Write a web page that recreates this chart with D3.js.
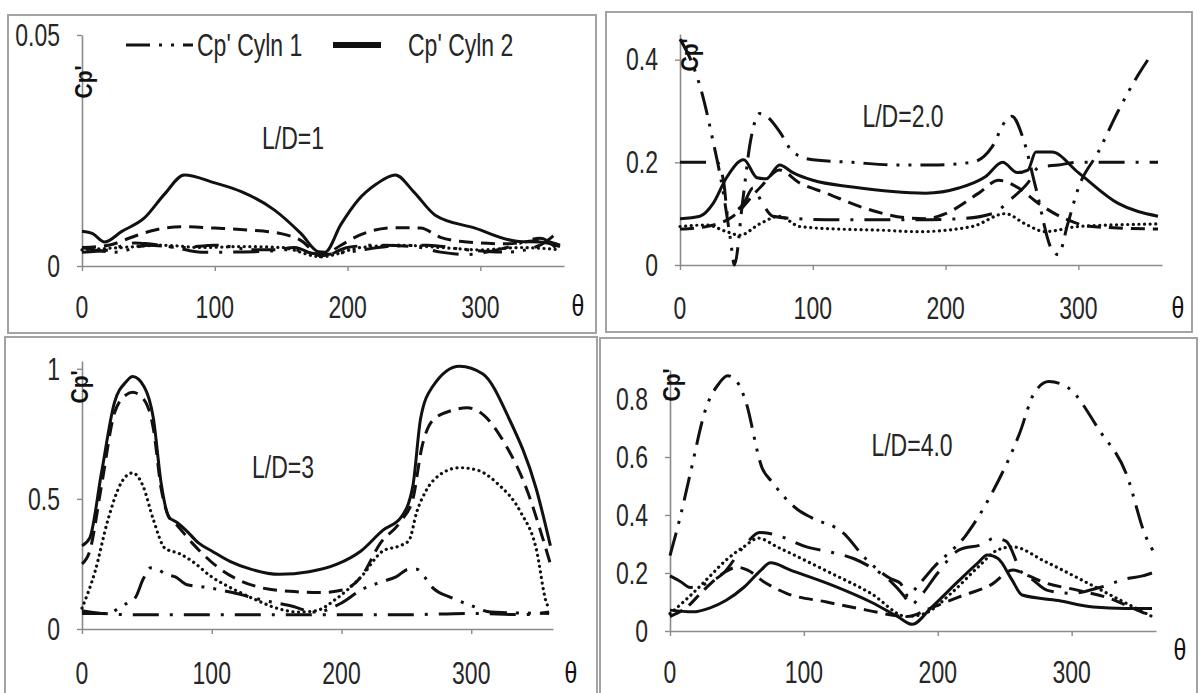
<!DOCTYPE html>
<html>
<head>
<meta charset="utf-8">
<script src="https://cdn.jsdelivr.net/npm/d3@7"></script>
<style>
  body { margin: 0; background: #fff; }
  svg { display: block; }
</style>
</head>
<body>
<div id="chart"></div>
<script>
// tick values / labels
const xTicks = [0, 100, 200, 300];
const p1YTicks = [0, 0.05],          p1YLabels = ["0", "0.05"];
const p2YTicks = [0, 0.2, 0.4],      p2YLabels = ["0", "0.2", "0.4"];
const p3YTicks = [0, 0.5, 1],        p3YLabels = ["0", "0.5", "1"];
const p4YTicks = [0, 0.2, 0.4, 0.6, 0.8], p4YLabels = ["0", "0.2", "0.4", "0.6", "0.8"];

const titles = ["L/D=1", "L/D=2.0", "L/D=3", "L/D=4.0"];
const legendLabels = ["Cp' Cyln 1", "Cp' Cyln 2"];
const yTitle = "Cp'", xTitle = "θ";

// L/D=1  [theta, Cp']
const p1Solid = [[0,0.0075],[8,0.007],[17,0.0052],[30,0.0075],[47,0.0104],[62,0.0155],[77,0.0197],[100,0.018],[120,0.0161],[145,0.0121],[165,0.007],[178,0.0031],[183,0.003],[195,0.009],[208,0.0143],[222,0.0178],[236,0.0197],[250,0.016],[266,0.011],[296,0.0082],[329,0.0053],[345,0.0052],[360,0.0042]];
const p1Dashed = [[0,0.004],[20,0.0045],[40,0.0065],[55,0.0078],[75,0.0085],[100,0.0082],[125,0.0078],[150,0.007],[165,0.0055],[180,0.0022],[195,0.0045],[210,0.0068],[235,0.0083],[255,0.0082],[270,0.0062],[290,0.0052],[320,0.0048],[345,0.0055],[360,0.0045]];
const p1Dotted = [[0,0.0035],[30,0.004],[60,0.0045],[90,0.004],[120,0.0042],[150,0.004],[180,0.002],[210,0.004],[240,0.0045],[270,0.004],[300,0.0035],[330,0.004],[360,0.0035]];
const p1DashDot = [[0,0.003],[20,0.0035],[40,0.005],[50,0.0048],[70,0.004],[90,0.003],[110,0.003],[140,0.0032],[160,0.004],[180,0.002],[200,0.004],[220,0.0045],[250,0.0042],[270,0.003],[290,0.0025],[320,0.004],[345,0.006],[360,0.003]];
const p1DashDotDot = [[0,0.004],[25,0.003],[50,0.0045],[75,0.004],[100,0.0045],[130,0.0035],[160,0.0035],[180,0.0025],[200,0.003],[230,0.0042],[260,0.0045],[290,0.0035],[320,0.003],[345,0.0045],[355,0.0065]];

// L/D=2.0
const p2Solid = [[0,0.09],[15,0.095],[25,0.12],[35,0.17],[48,0.205],[58,0.17],[65,0.168],[75,0.195],[85,0.18],[100,0.165],[130,0.152],[160,0.143],[185,0.14],[210,0.15],[230,0.172],[243,0.2],[254,0.18],[262,0.185],[268,0.22],[280,0.22],[300,0.18],[330,0.12],[360,0.095]];
const p2Dashed = [[0,0.07],[20,0.075],[40,0.095],[60,0.15],[75,0.185],[90,0.16],[110,0.14],[140,0.11],[170,0.092],[185,0.09],[200,0.1],[225,0.14],[240,0.165],[255,0.15],[270,0.12],[290,0.09],[310,0.075],[360,0.07]];
const p2Dotted = [[0,0.075],[20,0.078],[35,0.065],[45,0.058],[60,0.08],[75,0.095],[90,0.075],[120,0.07],[150,0.068],[180,0.065],[220,0.075],[245,0.1],[260,0.08],[275,0.065],[300,0.075],[360,0.08]];
const p2DashDot = [[0,0.2],[28,0.2],[33,0.16],[36,0.1],[48,0.12],[55,0.15],[62,0.12],[70,0.095],[90,0.09],[120,0.088],[150,0.088],[180,0.088],[210,0.09],[235,0.1],[250,0.13],[262,0.16],[270,0.19],[285,0.195],[300,0.2],[360,0.2]];
const p2DashDotDot = [[0,0.44],[8,0.4],[16,0.34],[25,0.24],[32,0.15],[38,0.05],[41,0.0],[47,0.12],[53,0.24],[60,0.295],[65,0.29],[75,0.26],[85,0.22],[100,0.205],[130,0.2],[160,0.195],[190,0.195],[220,0.2],[235,0.23],[245,0.28],[250,0.29],[258,0.25],[268,0.15],[280,0.03],[285,0.02],[292,0.08],[300,0.15],[315,0.22],[330,0.3],[345,0.37],[355,0.41]];

// L/D=3
const p3Solid = [[0,0.32],[6,0.35],[15,0.6],[25,0.87],[34,0.95],[39,0.97],[48,0.93],[55,0.81],[61,0.56],[67,0.43],[73,0.41],[80,0.38],[90,0.33],[100,0.3],[114,0.26],[130,0.23],[152,0.21],[175,0.22],[197,0.25],[215,0.3],[232,0.38],[246,0.43],[255,0.55],[261,0.81],[270,0.93],[291,1.01],[309,0.98],[329,0.81],[350,0.54],[361,0.32]];
const p3Dashed = [[0,0.25],[6,0.3],[15,0.55],[25,0.83],[34,0.9],[39,0.91],[48,0.88],[55,0.77],[61,0.54],[67,0.43],[73,0.4],[85,0.33],[104,0.24],[120,0.19],[137,0.16],[160,0.145],[183,0.14],[201,0.15],[215,0.2],[230,0.33],[245,0.41],[255,0.5],[262,0.7],[270,0.8],[285,0.84],[297,0.85],[310,0.82],[325,0.72],[344,0.52],[355,0.35],[361,0.25]];
const p3Dotted = [[0,0.08],[10,0.22],[20,0.42],[30,0.56],[39,0.6],[47,0.55],[55,0.42],[64,0.31],[75,0.29],[85,0.26],[100,0.2],[114,0.16],[135,0.11],[150,0.08],[167,0.065],[180,0.07],[197,0.12],[215,0.2],[232,0.3],[245,0.32],[252,0.34],[258,0.45],[265,0.53],[275,0.59],[291,0.62],[305,0.61],[320,0.56],[338,0.45],[350,0.31],[358,0.1],[360,0.08]];
const p3DashDot = [[0,0.07],[15,0.06],[40,0.055],[100,0.055],[150,0.055],[200,0.055],[250,0.055],[300,0.06],[340,0.055],[360,0.065]];
const p3DashDotDot = [[0,0.06],[20,0.06],[31,0.09],[41,0.12],[47,0.19],[53,0.235],[58,0.23],[65,0.21],[72,0.2],[81,0.17],[96,0.16],[116,0.14],[140,0.11],[160,0.09],[180,0.065],[200,0.1],[215,0.15],[230,0.18],[242,0.2],[252,0.23],[258,0.23],[264,0.2],[270,0.16],[285,0.12],[300,0.09],[315,0.065],[360,0.06]];

// L/D=4.0
const p4Solid = [[0,0.072],[17,0.066],[30,0.08],[42,0.106],[55,0.15],[68,0.21],[75,0.235],[90,0.21],[120,0.16],[150,0.1],[170,0.05],[181,0.023],[195,0.08],[215,0.17],[230,0.235],[237,0.262],[245,0.25],[255,0.18],[263,0.124],[290,0.105],[316,0.083],[340,0.078],[360,0.078]];
const p4Dashed = [[0,0.05],[12,0.08],[25,0.14],[40,0.2],[50,0.22],[58,0.21],[70,0.17],[87,0.13],[117,0.1],[147,0.072],[177,0.05],[195,0.08],[216,0.118],[240,0.16],[256,0.21],[268,0.19],[278,0.17],[305,0.14],[328,0.113],[345,0.08],[360,0.05]];
const p4Dotted = [[0,0.06],[10,0.1],[17,0.13],[30,0.19],[42,0.245],[55,0.29],[66,0.32],[80,0.29],[120,0.2],[150,0.13],[177,0.05],[190,0.06],[210,0.13],[230,0.22],[245,0.28],[256,0.29],[280,0.24],[310,0.17],[341,0.095],[360,0.05]];
const p4DashDot = [[0,0.19],[8,0.17],[15,0.15],[25,0.16],[40,0.2],[55,0.29],[67,0.34],[80,0.33],[102,0.29],[122,0.27],[137,0.25],[150,0.22],[165,0.17],[175,0.12],[180,0.09],[187,0.12],[200,0.2],[216,0.28],[234,0.3],[242,0.32],[251,0.31],[263,0.2],[270,0.18],[282,0.14],[300,0.13],[321,0.15],[341,0.18],[353,0.19],[360,0.2]];
const p4DashDotDot = [[0,0.26],[8,0.4],[15,0.54],[27,0.77],[36,0.85],[43,0.88],[50,0.86],[56,0.8],[69,0.56],[76,0.515],[95,0.42],[106,0.39],[129,0.34],[146,0.25],[165,0.18],[172,0.165],[178,0.12],[184,0.15],[197,0.22],[221,0.33],[241,0.48],[261,0.68],[272,0.82],[283,0.86],[297,0.84],[321,0.69],[341,0.54],[355,0.33],[363,0.26]];

const width = 1198, height = 693;

const lineStyles = {
  solid:      {dash: null, w: 3},
  dashed:     {dash: "14,8", w: 3},
  dotted:     {dash: "0.1,5.5", w: 3.2, cap: "round"},
  dashDot:    {dash: "26,11,3,11", w: 3},
  dashDotDot: {dash: "24,9,3,9,3,9", w: 3}
};

const panels = [
  {frame: [8, 15, 596, 333], xr: [82, 564], yr: [266, 35], ymax: 0.05, yTicks: p1YTicks, yLabels: p1YLabels,
   title: [293, 138], theta: [578, 306], xLabY: 307, cp: [84, 82],
   series: [[p1DashDotDot, "dashDotDot"], [p1DashDot, "dashDot"], [p1Dotted, "dotted"], [p1Dashed, "dashed"], [p1Solid, "solid"]]},
  {frame: [606, 12, 1192, 332], xr: [680, 1162], yr: [265, 34], ymax: 0.45, yTicks: p2YTicks, yLabels: p2YLabels,
   title: [903, 116], theta: [1178, 308], xLabY: 308, cp: [690, 55],
   series: [[p2DashDotDot, "dashDotDot"], [p2DashDot, "dashDot"], [p2Dotted, "dotted"], [p2Dashed, "dashed"], [p2Solid, "solid"]]},
  {frame: [5, 337, 597, 700], xr: [82, 553], yr: [629, 361], ymax: 1.03, yTicks: p3YTicks, yLabels: p3YLabels,
   title: [283, 467], theta: [571, 673], xLabY: 673, cp: [80, 387],
   series: [[p3DashDotDot, "dashDotDot"], [p3DashDot, "dashDot"], [p3Dotted, "dotted"], [p3Dashed, "dashed"], [p3Solid, "solid"]]},
  {frame: [600, 338, 1197, 700], xr: [670, 1156], yr: [631, 370], ymax: 0.9, yTicks: p4YTicks, yLabels: p4YLabels,
   title: [912, 445], theta: [1180, 650], xLabY: 672, cp: [672, 385],
   series: [[p4DashDotDot, "dashDotDot"], [p4DashDot, "dashDot"], [p4Dotted, "dotted"], [p4Dashed, "dashed"], [p4Solid, "solid"]]}
];

const svg = d3.select("#chart").append("svg")
  .attr("width", width)
  .attr("height", height);

function txt(g, x, y, s, o = {}) {
  return g.append("text")
    .attr("transform", `translate(${x},${y}) rotate(${o.rot || 0}) scale(${o.sx || 1},${o.sy || 1.35})`)
    .attr("text-anchor", o.anchor || "middle")
    .attr("dominant-baseline", "central")
    .attr("font-family", "'Liberation Sans', Arial, sans-serif")
    .attr("font-size", o.size || 23)
    .attr("font-weight", o.weight || "normal")
    .attr("fill", o.fill || "#262626")
    .text(s);
}

panels.forEach((p, i) => {
  const g = svg.append("g");

  g.append("rect")
    .attr("x", p.frame[0]).attr("y", p.frame[1])
    .attr("width", p.frame[2] - p.frame[0]).attr("height", p.frame[3] - p.frame[1])
    .attr("fill", "none").attr("stroke", "#a3a3a3").attr("stroke-width", 2);

  const x = d3.scaleLinear().domain([0, 363]).range(p.xr);
  const y = d3.scaleLinear().domain([0, p.ymax]).range(p.yr);

  const xAxis = g.append("g").attr("transform", `translate(0,${y(0)})`)
    .call(d3.axisBottom(x).tickValues(xTicks).tickSize(5).tickSizeOuter(0).tickFormat(""));
  const yAxis = g.append("g").attr("transform", `translate(${x(0)},0)`)
    .call(d3.axisLeft(y).tickValues(p.yTicks).tickSize(5).tickSizeOuter(0).tickFormat(""));
  [xAxis, yAxis].forEach(a => {
    a.select(".domain").attr("stroke", "#8a8a8a").attr("stroke-width", 1.6);
    a.selectAll(".tick line").attr("stroke", "#8a8a8a").attr("stroke-width", 1.4);
  });

  xTicks.forEach(v => txt(g, x(v), p.xLabY, v));
  p.yTicks.forEach((v, k) => txt(g, x(0) - 22, y(v), p.yLabels[k], {anchor: "end"}));
  txt(g, p.theta[0], p.theta[1], xTitle, {size: 23, sy: 1.25, fill: "#111"});
  txt(g, p.cp[0], p.cp[1], yTitle, {rot: -90, size: 21, weight: "bold", sy: 1.15, fill: "#111"});
  txt(g, p.title[0], p.title[1], titles[i]);

  const line = d3.line()
    .x(d => x(d[0]))
    .y(d => y(d[1]))
    .curve(d3.curveMonotoneX);

  p.series.forEach(([data, style]) => {
    const st = lineStyles[style];
    g.append("path")
      .datum(data)
      .attr("fill", "none")
      .attr("stroke", "#111")
      .attr("stroke-width", st.w)
      .attr("stroke-dasharray", st.dash)
      .attr("stroke-linecap", st.cap || "butt")
      .attr("d", line);
  });
});

// legend (top-left panel)
const leg = svg.append("g");
leg.append("line")
  .attr("x1", 126).attr("x2", 193).attr("y1", 45).attr("y2", 45)
  .attr("stroke", "#111").attr("stroke-width", 3)
  .attr("stroke-dasharray", lineStyles.dashDotDot.dash);
txt(leg, 197, 45, legendLabels[0], {anchor: "start"});
leg.append("line")
  .attr("x1", 333).attr("x2", 381).attr("y1", 45).attr("y2", 45)
  .attr("stroke", "#111").attr("stroke-width", 6);
txt(leg, 408, 45, legendLabels[1], {anchor: "start"});
</script>
</body>
</html>
